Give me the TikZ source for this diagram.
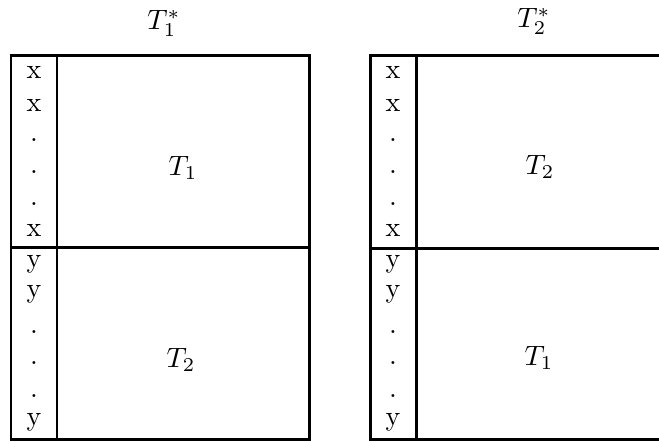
\documentclass[tikz,border=0pt]{standalone}
\usepackage{amsmath}
\usetikzlibrary{positioning}
\begin{document}
\begin{tikzpicture}[x=0.357pt, y=-0.357pt, line width=1.07pt,
  every node/.style={inner sep=0pt}]
  \useasboundingbox (0,0) rectangle (659,441);
  \clip (0,0) rectangle (659,441);

  % 表の枠
  \draw (11,55) rectangle (309,439);
  \draw (57,55) -- (57,439);
  \draw (11,247) -- (310,247);
  \draw (662,55) -- (370,55) -- (370,439) -- (662,439);
  \draw (416,55) -- (416,439);
  \draw (370,248) -- (662,248);

  % 見出し
  \node (h1) at (164,23) {$T_1^*$};
  \node (h2) at (534,21) {$T_2^*$};

  % 列の記号
  \foreach \b/\s in {78/x,111/x,141/.,173/.,205/.,236/x,267/y,297/y,333/.,364/.,397/.,425/y} {
    \node[anchor=base] (l\b) at (34,\b) {\s};
    \node[anchor=base] (r\b) at (393,\b) {\s};
  }

  % ブロック
  \node (a1) at (183,168) {$T_1$};
  \node (a2) at (181,360) {$T_2$};
  \node (b2) at (540,167) {$T_2$};
  \node (b1) at (539,358) {$T_1$};
\end{tikzpicture}
\end{document}
